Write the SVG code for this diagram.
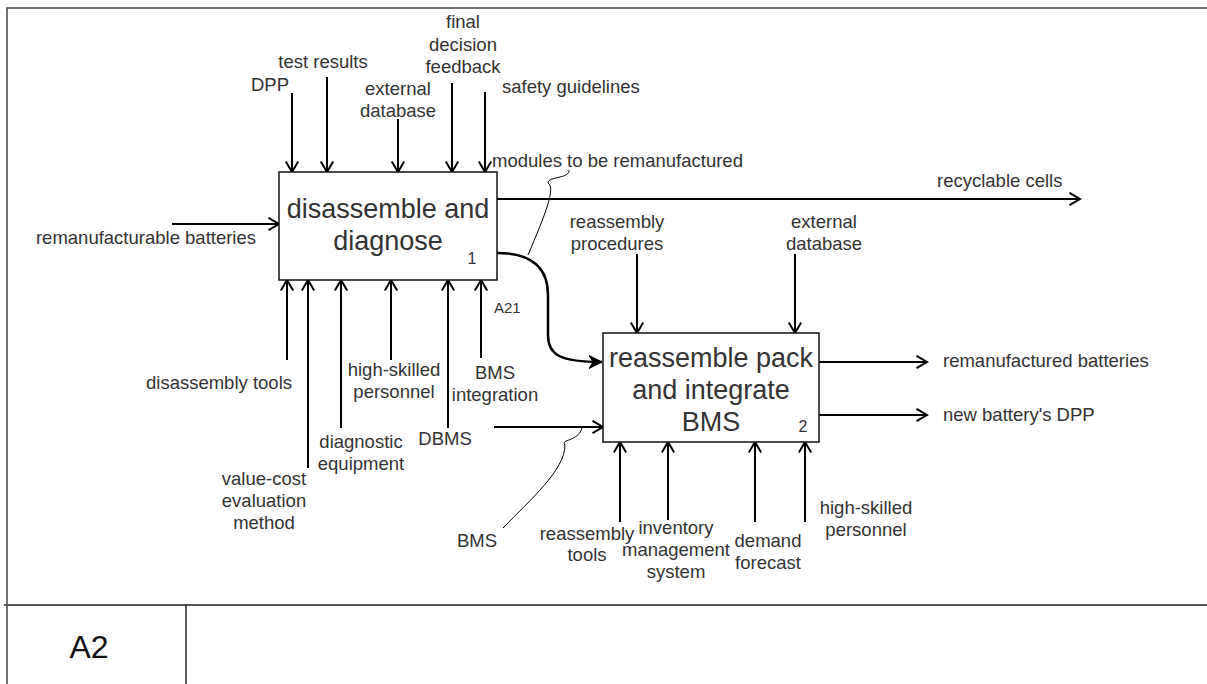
<svg xmlns="http://www.w3.org/2000/svg" width="1207" height="684" viewBox="0 0 1207 684">
<style>
text{font-family:"Liberation Sans",Arial,sans-serif;fill:#333}
.lb{font-size:18.5px}
.c{text-anchor:middle}
.bt{font-size:27px;text-anchor:middle}
.num{font-size:16px}
.box{fill:#fff;stroke:#111;stroke-width:1.5}
.ar{fill:none;stroke:#000;stroke-width:2;marker-end:url(#open)}
.frame{fill:none;stroke:#444;stroke-width:1.5}
</style>
<defs>
<marker id="open" markerUnits="userSpaceOnUse" markerWidth="16" markerHeight="16" refX="12" refY="7" orient="auto">
<path d="M1.5,0.8 L12,7 L1.5,13.2" fill="none" stroke="#000" stroke-width="2"/>
</marker>
<marker id="filled" markerUnits="userSpaceOnUse" markerWidth="16" markerHeight="16" refX="13" refY="7" orient="auto">
<path d="M0,0.5 L13,7 L0,13.5 L4,7 Z" fill="#000" stroke="#000" stroke-width="1"/>
</marker>
</defs>
<rect width="1207" height="684" fill="#fff"/>
<g id="frame">
<path class="frame" d="M7,684 L7,8 L1207,8"/>
<path d="M4,605 L1207,605" stroke="#555" stroke-width="2" fill="none"/>
<path d="M186,605 L186,684" stroke="#222" stroke-width="1.5" fill="none"/>
<text x="89" y="658" style="font-size:32px;fill:#111" class="c">A2</text>
</g>
<g id="connectors">
<path class="ar" d="M292,93 L292,172"/>
<path class="ar" d="M327,77 L327,172"/>
<path class="ar" d="M398,119 L398,172"/>
<path class="ar" d="M452,83 L452,172"/>
<path class="ar" d="M485,92 L485,172"/>
<path class="ar" d="M172,224 L279,224"/>
<path class="ar" d="M497,199 L1080,199"/>
<path class="ar" d="M287,360 L287,280"/>
<path class="ar" d="M308,468 L308,280"/>
<path class="ar" d="M341,428 L341,280"/>
<path class="ar" d="M391,360 L391,280"/>
<path class="ar" d="M448,428 L448,280"/>
<path class="ar" d="M481,358 L481,280"/>
<path d="M497,253 C535,253 548,270 548,295 L548,335 C548,355 560,362 602,362" fill="none" stroke="#000" stroke-width="2.5" marker-end="url(#filled)"/>
<path d="M569,170 C570,179 548,176 548,183 C556,188 545,215 528,255" fill="none" stroke="#000" stroke-width="1"/>
<path class="ar" d="M637,254 L637,333"/>
<path class="ar" d="M795,254 L795,333"/>
<path class="ar" d="M494,427 L603,427"/>
<path d="M503,528 C530,500 565,470 565,445 C560,439 578,442 582,428" fill="none" stroke="#000" stroke-width="1"/>
<path class="ar" d="M620,522 L620,442"/>
<path class="ar" d="M668,520 L668,442"/>
<path class="ar" d="M755,522 L755,442"/>
<path class="ar" d="M805,522 L805,442"/>
<path class="ar" d="M819,362 L927,362"/>
<path class="ar" d="M819,415 L927,415"/>
</g>
<g id="node1">
<rect class="box" x="279" y="172" width="218" height="108"/>
<text class="bt" x="388" y="218">disassemble and</text>
<text class="bt" x="388" y="250">diagnose</text>
<text class="num" x="472" y="264" text-anchor="middle">1</text>
<text class="num" x="494" y="313" style="font-size:15px">A21</text>
</g>
<g id="node2">
<rect class="box" x="603" y="333" width="216" height="109"/>
<text class="bt" x="711" y="367">reassemble pack</text>
<text class="bt" x="711" y="399">and integrate</text>
<text class="bt" x="711" y="431">BMS</text>
<text class="num" x="803" y="432" text-anchor="middle">2</text>
</g>
<g id="labels">
<text class="lb c" x="270" y="91">DPP</text>
<text class="lb c" x="323" y="68">test results</text>
<text class="lb c" x="398" y="95">external</text>
<text class="lb c" x="398" y="117">database</text>
<text class="lb c" x="463" y="28">final</text>
<text class="lb c" x="463" y="51">decision</text>
<text class="lb c" x="463" y="73">feedback</text>
<text class="lb" x="502" y="93">safety guidelines</text>
<text class="lb" x="492" y="167">modules to be remanufactured</text>
<text class="lb" x="937" y="187">recyclable cells</text>
<text class="lb c" x="146" y="244">remanufacturable batteries</text>
<text class="lb c" x="617" y="228">reassembly</text>
<text class="lb c" x="617" y="250">procedures</text>
<text class="lb c" x="824" y="228">external</text>
<text class="lb c" x="824" y="250">database</text>
<text class="lb c" x="219" y="389">disassembly tools</text>
<text class="lb c" x="264" y="485">value-cost</text>
<text class="lb c" x="264" y="507">evaluation</text>
<text class="lb c" x="264" y="529">method</text>
<text class="lb c" x="361" y="448">diagnostic</text>
<text class="lb c" x="361" y="470">equipment</text>
<text class="lb c" x="394" y="376">high-skilled</text>
<text class="lb c" x="394" y="398">personnel</text>
<text class="lb c" x="495" y="379">BMS</text>
<text class="lb c" x="495" y="401">integration</text>
<text class="lb c" x="445" y="445">DBMS</text>
<text class="lb c" x="477" y="547">BMS</text>
<text class="lb c" x="587" y="540">reassembly</text>
<text class="lb c" x="587" y="561">tools</text>
<text class="lb c" x="676" y="534">inventory</text>
<text class="lb c" x="676" y="556">management</text>
<text class="lb c" x="676" y="578">system</text>
<text class="lb c" x="768" y="547">demand</text>
<text class="lb c" x="768" y="569">forecast</text>
<text class="lb c" x="866" y="514">high-skilled</text>
<text class="lb c" x="866" y="536">personnel</text>
<text class="lb" x="943" y="367">remanufactured batteries</text>
<text class="lb" x="943" y="421">new battery's DPP</text>
</g>
</svg>
